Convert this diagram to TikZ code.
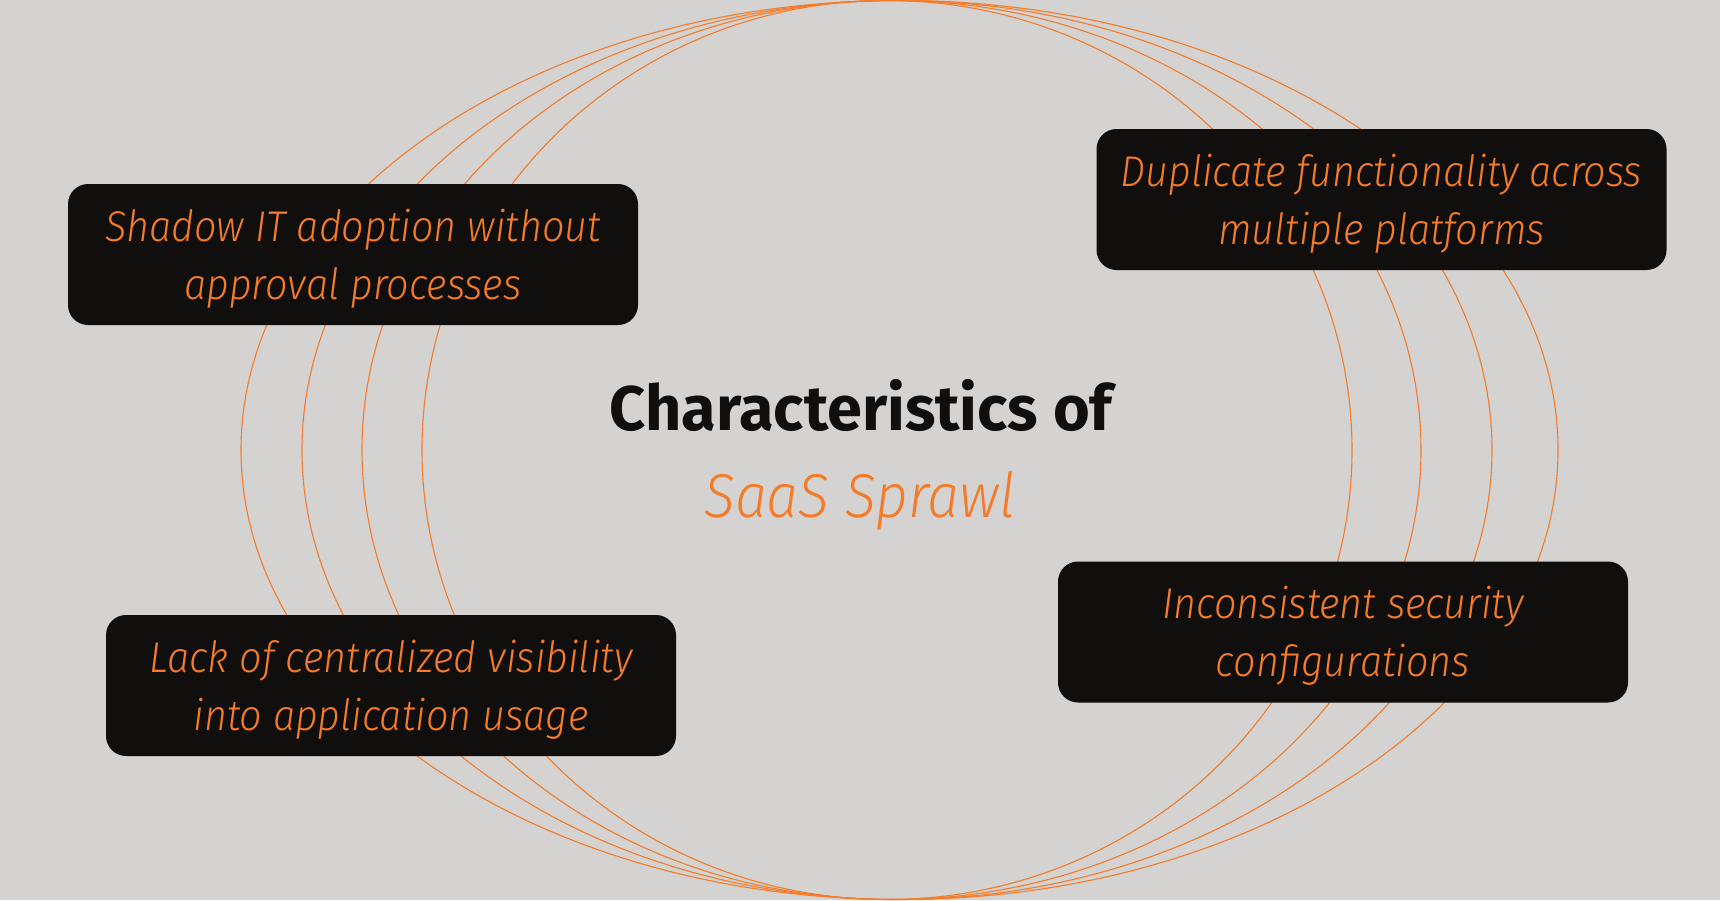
\documentclass[tikz,border=0pt]{standalone}
\usepackage{fontspec}
\setmainfont{Fira Sans}
\newfontfamily\lightit{Fira Sans Light Italic}[FakeStretch=0.92]
\newfontfamily\titlefont{Fira Sans Bold}
\definecolor{bg}{RGB}{212,211,209}
\definecolor{boxfill}{RGB}{16,15,13}
\definecolor{accent}{RGB}{244,123,42}
\newcommand{\boxtext}[2]{\raisebox{-4pt}[\height][\depth]{\begin{tabular}{@{}c@{}}#1\\#2\end{tabular}}}
\begin{document}
\begin{tikzpicture}[x=1pt,y=-1pt,
  ring/.style={draw=accent,line width=1.1pt},
  itembox/.style={fill=boxfill,rounded corners=20pt,minimum width=570pt,minimum height=141pt,
    inner sep=0pt,align=center,text=accent,font=\lightit\fontsize{43}{58}\selectfont},
  titleA/.style={text=boxfill,font=\titlefont\fontsize{63}{70}\selectfont,inner sep=0pt},
  titleB/.style={text=accent,font=\lightit\fontsize{62}{70}\selectfont,inner sep=0pt}]
\fill[bg] (0,0) rectangle (1720,900);
\useasboundingbox (0,0) rectangle (1720,900);
\draw[ring] (899.5,450) ellipse [x radius=658.5pt, y radius=449.5pt];
\draw[ring] (897,450) ellipse [x radius=595pt, y radius=449.5pt];
\draw[ring] (891.5,450) ellipse [x radius=529.5pt, y radius=449.5pt];
\draw[ring] (887,450) ellipse [x radius=465pt, y radius=449.5pt];
\node[itembox] (b1) at (353,254.5) {\boxtext{Shadow IT adoption without}{approval processes}};
\node[itembox] (b2) at (1381.5,199.5) {\boxtext{Duplicate functionality across}{multiple platforms}};
\node[itembox] (b3) at (1343,632) {\boxtext{Inconsistent security}{configurations}};
\node[itembox] (b4) at (391,685.5) {\boxtext{Lack of centralized visibility}{into application usage}};
\node[titleA] (t1) at (861,405) {Characteristics of};
\node[titleB] (t2) at (860,501) {SaaS Sprawl};
\end{tikzpicture}
\end{document}
